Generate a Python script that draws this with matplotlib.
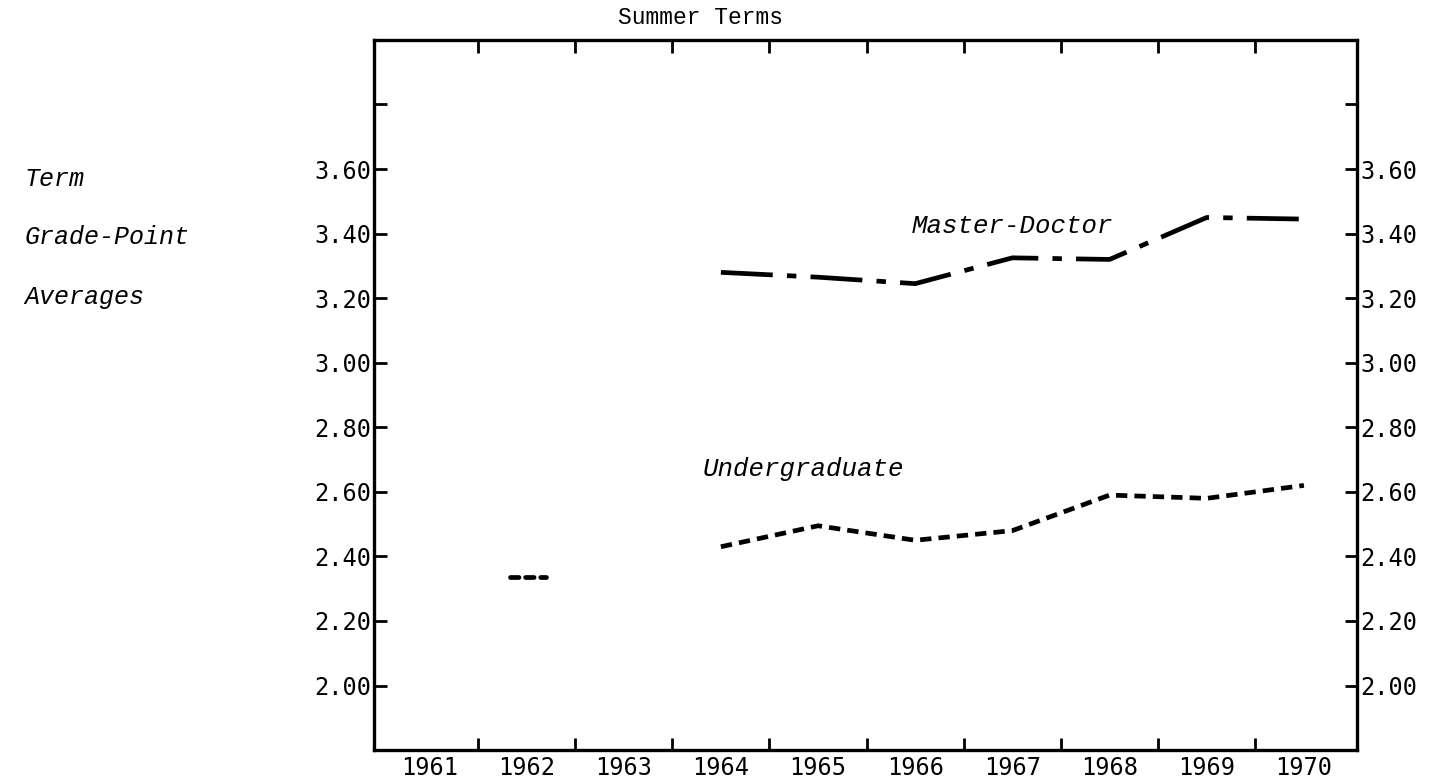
import numpy as np
import matplotlib
matplotlib.use("Agg")
import matplotlib.pyplot as plt
from matplotlib.ticker import FixedLocator

# Summer terms grade-point averages
years = [1961, 1962, 1963, 1964, 1965, 1966, 1967, 1968, 1969, 1970]
md_years = [1964, 1965, 1966, 1967, 1968, 1969, 1970]
md_gpa = [3.28, 3.265, 3.245, 3.325, 3.32, 3.45, 3.445]
ug_years = [1964, 1965, 1966, 1967, 1968, 1969, 1970]
ug_gpa = [2.43, 2.495, 2.45, 2.48, 2.59, 2.58, 2.62]
ug_1962 = 2.335
ytick_vals = [2.0, 2.2, 2.4, 2.6, 2.8, 3.0, 3.2, 3.4, 3.6, 3.8]
ytick_labels = ["2.00", "2.20", "2.40", "2.60", "2.80", "3.00", "3.20", "3.40", "3.60", ""]

mono = "Liberation Mono"      # typewriter text
tick_font = "DejaVu Sans Mono"  # numbers look like letter gothic

fig = plt.figure(figsize=(14.44, 7.83), dpi=100)
ax = fig.add_axes([0.259, 0.042, 0.681, 0.907])

ax.plot(md_years, md_gpa, color="black", lw=3.4, dashes=(11, 3.0, 2.0, 3.0))
ax.plot(ug_years, ug_gpa, color="black", lw=3.4, dashes=(2.4, 1.5))
# lone 1962 value drawn as a short dotted stub
ax.plot([1962 - 0.17, 1962 + 0.2], [ug_1962, ug_1962], color="black", lw=3.4,
        dashes=(1.8, 1.4), dash_capstyle="round")

ax.set_xlim(1960.43, 1970.55)
ax.set_ylim(1.80, 4.00)

# ticks on year boundaries, labels at year centres
ax.xaxis.set_major_locator(FixedLocator([y + 0.5 for y in years[:-1]]))
ax.xaxis.set_minor_locator(FixedLocator(years))
ax.set_xticklabels([], minor=False)
ax.set_xticklabels([str(y) for y in years], minor=True, fontfamily=tick_font, fontsize=17)
ax.tick_params(axis="x", which="minor", length=0, pad=4)
ax.tick_params(axis="x", which="major", direction="in", length=9, width=2, top=True, bottom=True)

ax.set_yticks(ytick_vals)
ax.set_yticklabels(ytick_labels, fontfamily=tick_font, fontsize=17)
ax.tick_params(axis="y", direction="in", length=9, width=2, left=True, right=True,
               labelleft=True, labelright=True, pad=2)

for s in ax.spines.values():
    s.set_linewidth(2.4)

ax.text(1967.0, 3.425, "Master-Doctor", fontfamily=mono, style="italic", fontsize=18.5,
        ha="center", va="center")
ax.text(1964.85, 2.67, "Undergraduate", fontfamily=mono, style="italic", fontsize=18.5,
        ha="center", va="center")

fig.text(0.485, 0.978, "Summer Terms", fontfamily=mono, fontsize=16.5, ha="center", va="center")
fig.text(0.017, 0.772, "Term", fontfamily=mono, style="italic", fontsize=18, va="center")
fig.text(0.017, 0.697, "Grade-Point", fontfamily=mono, style="italic", fontsize=18, va="center")
fig.text(0.017, 0.621, "Averages", fontfamily=mono, style="italic", fontsize=18, va="center")

fig.savefig("out.png", dpi=100)
